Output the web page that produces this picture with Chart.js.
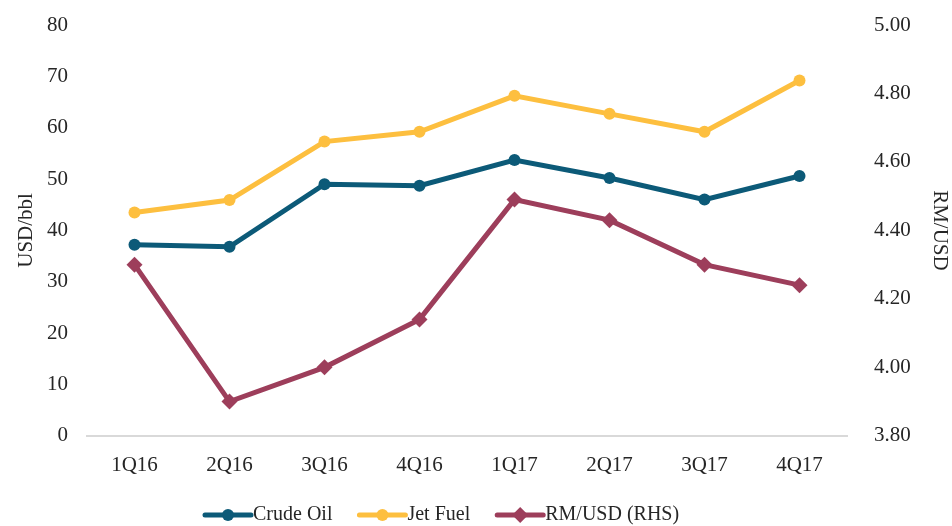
<!DOCTYPE html>
<html>
<head>
<meta charset="utf-8">
<script src="https://cdn.jsdelivr.net/npm/chart.js@4.4.0/dist/chart.umd.min.js"></script>
<style>
  html, body { margin: 0; padding: 0; background: #fff; }
  #wrap { width: 952px; height: 526px; }
</style>
</head>
<body>
<div id="wrap"><canvas id="c"></canvas></div>
<script>
// quarters and values
const quarters = ['1Q16', '2Q16', '3Q16', '4Q16', '1Q17', '2Q17', '3Q17', '4Q17'];
const crudeOil = [37.2, 36.8, 49.0, 48.7, 53.7, 50.2, 46.0, 50.6];
const jetFuel  = [43.5, 45.9, 57.3, 59.2, 66.2, 62.7, 59.2, 69.2];
const rmUsd    = [4.30, 3.90, 4.00, 4.14, 4.49, 4.43, 4.30, 4.24];

const leftTicks = [0, 10, 20, 30, 40, 50, 60, 70, 80];
const rightTicks = [3.8, 4.0, 4.2, 4.4, 4.6, 4.8, 5.0];

const FONT = "'Liberation Serif', 'DejaVu Serif', serif";
const textCol = '#262626';
const cCrude = '#0C5A78';
const cJet = '#FDBF3F';
const cRm = '#9D3E5B';

Chart.defaults.font.family = FONT;
Chart.defaults.font.size = 21;
Chart.defaults.color = textCol;

// legend drawn by hand: line with marker in the middle, like the original
const lineLegend = {
    id: 'lineLegend',
    afterDraw(chart) {
        const ctx = chart.ctx;
        const y = 515;
        let x = 205;
        ctx.save();
        ctx.font = '20px ' + FONT;
        ctx.textBaseline = 'middle';
        chart.data.datasets.forEach(ds => {
            ctx.strokeStyle = ds.borderColor;
            ctx.lineWidth = 5;
            ctx.lineCap = 'round';
            ctx.beginPath();
            ctx.moveTo(x, y);
            ctx.lineTo(x + 46, y);
            ctx.stroke();
            ctx.fillStyle = ds.borderColor;
            Chart.helpers.drawPoint(ctx, { pointStyle: ds.pointStyle, radius: ds.pointRadius, borderWidth: 0 }, x + 23, y);
            ctx.fillStyle = textCol;
            ctx.fillText(ds.label, x + 48, y);
            x += 48 + ctx.measureText(ds.label).width + 27;
        });
        ctx.restore();
    }
};

// fixed box width, and don't let the tick padding push the plot down
const fitY = w => s => { s.width = w; s.paddingTop = 0; s.paddingBottom = 0; };

new Chart(document.getElementById('c'), {
    type: 'line',
    data: {
        labels: quarters,
        datasets: [
            { label: 'Crude Oil', data: crudeOil, yAxisID: 'y', borderColor: cCrude, backgroundColor: cCrude,
              borderWidth: 5, pointStyle: 'circle', pointRadius: 6, pointBorderWidth: 0 },
            { label: 'Jet Fuel', data: jetFuel, yAxisID: 'y', borderColor: cJet, backgroundColor: cJet,
              borderWidth: 5, pointStyle: 'circle', pointRadius: 6, pointBorderWidth: 0 },
            { label: 'RM/USD (RHS)', data: rmUsd, yAxisID: 'y2', borderColor: cRm, backgroundColor: cRm,
              borderWidth: 5, pointStyle: 'rectRot', pointRadius: 8, pointBorderWidth: 0 }
        ]
    },
    options: {
        responsive: true,
        maintainAspectRatio: false,
        animation: false,
        layout: { padding: { top: 25, bottom: 31, left: 0, right: 0 } },
        plugins: { legend: { display: false }, tooltip: { enabled: false } },
        scales: {
            x: {
                offset: true,
                grid: { display: false, drawTicks: false },
                border: { display: true, color: '#d9d9d9', width: 2 },
                ticks: { padding: 17, maxRotation: 0 }
            },
            y: {
                position: 'left',
                min: 0, max: 80,
                afterBuildTicks: s => { s.ticks = leftTicks.map(v => ({ value: v })); },
                afterFit: fitY(87),
                grid: { display: false, drawTicks: false },
                border: { display: false },
                ticks: { padding: 19 },
                title: { display: true, text: 'USD/bbl', padding: { top: 14, bottom: 0 } }
            },
            y2: {
                position: 'right',
                min: 3.8, max: 5.0,
                afterBuildTicks: s => { s.ticks = rightTicks.map(v => ({ value: v })); },
                afterFit: fitY(105),
                grid: { display: false, drawTicks: false },
                border: { display: false },
                ticks: { padding: 27, callback: v => Number(v).toFixed(2) },
                title: { display: true, text: 'RM/USD', padding: { top: 0, bottom: 4 } }
            }
        }
    },
    plugins: [lineLegend]
});
</script>
</body>
</html>
